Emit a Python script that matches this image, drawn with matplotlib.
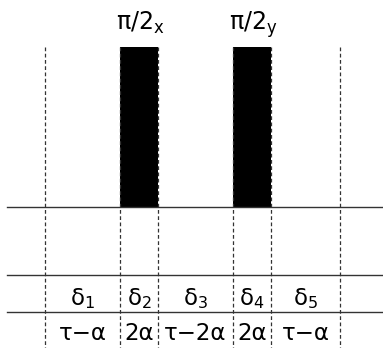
import matplotlib.pyplot as plt

plt.rcParams['font.family'] = ['DejaVu Sans']

# time boundaries of the sequence (pixel-like units along the axis)
edges = [45, 120, 158, 233, 271, 340]
pulses = [(120, 158), (233, 271)]
pulse_labels = ['$\\mathregular{π/2_x}$', '$\\mathregular{π/2_y}$']
delta_labels = ['$\\mathregular{δ_1}$', '$\\mathregular{δ_2}$', '$\\mathregular{δ_3}$',
                '$\\mathregular{δ_4}$', '$\\mathregular{δ_5}$']
dur_labels = ['τ−α', '2α', 'τ−2α', '2α', 'τ−α']

fig = plt.figure(figsize=(3.83, 3.48), dpi=100)
ax = fig.add_axes([0, 0, 1, 1])
ax.set_xlim(0, 383)
ax.set_ylim(348, 0)
ax.axis('off')

top, base = 47, 207
row1, row2 = 275, 312

# horizontal lines
for y in [base, row1, row2]:
    ax.plot([7, 383], [y, y], color='#333333', lw=1.0)

# dashed vertical lines
for x in edges:
    ax.plot([x, x], [top, 348], color='#333333', lw=0.9, ls=(0, (3, 2)))

# pulses
for (x0, x1), lab in zip(pulses, pulse_labels):
    ax.fill_between([x0, x1], top, base, color='black', lw=0)
    ax.text((x0 + x1) / 2 + 1, 30, lab, ha='center', va='baseline', fontsize=17)

# delta and duration labels
for i in range(len(delta_labels)):
    xc = (edges[i] + edges[i + 1]) / 2
    ax.text(xc, 305, delta_labels[i], ha='center', va='baseline', fontsize=16.5)
    ax.text(xc, 340, dur_labels[i], ha='center', va='baseline', fontsize=16.5)

fig.savefig('out.png', dpi=100)
